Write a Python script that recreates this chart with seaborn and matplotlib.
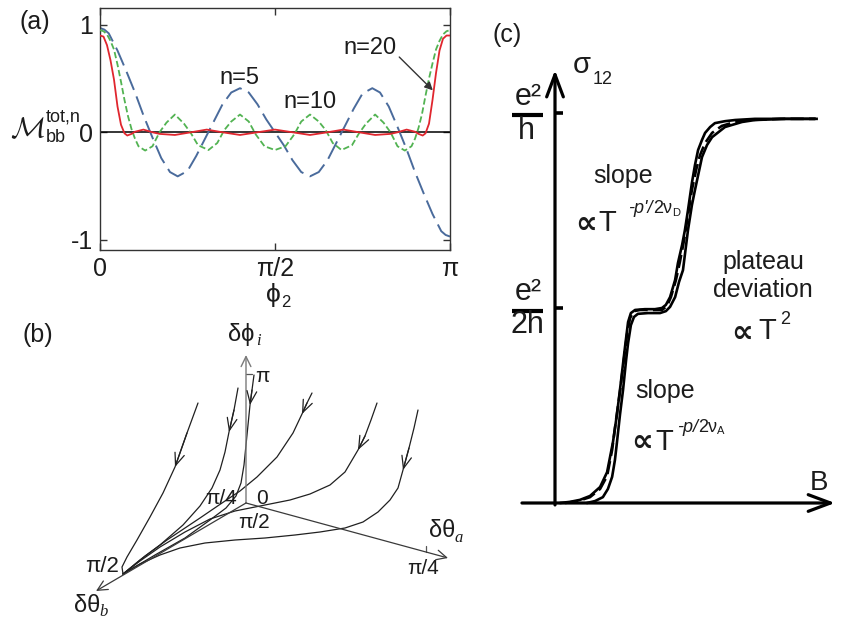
import matplotlib
matplotlib.use("Agg")
import matplotlib.pyplot as plt
from matplotlib.lines import Line2D
import numpy as np
import seaborn as sns

# ---------------- (a) M_bb^{tot,n} versus phi_2 (phi_2 in units of pi) ----------------
phi_n5 = [0, .0125, .025, .05, .075, .1, .125, .15, .175, .2, .222, .25, .275, .3, .325,
          .35, .375, .4, .425, .45, .475, .5, .525, .55, .575, .6, .625, .65, .675, .7,
          .725, .75, .778, .8, .825, .85, .875, .9, .925, .95, .975, .9875, 1]
m_n5 = [0.97, 0.955, 0.92, 0.76, 0.57, 0.37, 0.15, -0.05, -0.24, -0.37, -0.41, -0.36,
        -0.22, -0.06, 0.10, 0.26, 0.37, 0.41, 0.37, 0.26, 0.12, 0.0, -0.12, -0.26, -0.37,
        -0.41, -0.37, -0.26, -0.10, 0.06, 0.22, 0.36, 0.41, 0.37, 0.24, 0.05, -0.15, -0.37,
        -0.57, -0.76, -0.92, -0.955, -0.97]

phi_n10 = [0, .01, .02, .03, .04, .05, .06, .07, .08, .09, .1, .11, .129, .15, .17, .19,
           .214, .24, .26, .28, .31, .335, .355, .375, .4, .425, .445, .47, .5, .53, .555,
           .575, .6, .625, .645, .665, .69, .72, .74, .76, .786, .81, .83, .85, .871, .89,
           .9, .91, .92, .93, .94, .95, .96, .97, .98, .99, 1]
m_n10 = [0.95, 0.94, 0.91, 0.85, 0.77, 0.63, 0.47, 0.30, 0.15, 0.03, -0.06, -0.13, -0.17,
         -0.13, 0.0, 0.09, 0.165, 0.08, -0.01, -0.12, -0.165, -0.10, 0.02, 0.10, 0.165,
         0.10, -0.02, -0.13, -0.165, -0.13, -0.02, 0.10, 0.165, 0.10, 0.02, -0.10, -0.165,
         -0.12, -0.01, 0.08, 0.165, 0.09, 0.0, -0.13, -0.17, -0.13, -0.06, 0.04, 0.17,
         0.34, 0.50, 0.64, 0.77, 0.85, 0.91, 0.94, 0.95]

phi_n20 = [0, .01, .02, .03, .04, .05, .06, .07, .078, .09, .1, .124, .15, .17, .214, .26,
           .305, .35, .4, .45, .5, .55, .6, .65, .695, .74, .786, .83, .85, .876, .9, .91,
           .922, .93, .94, .95, .96, .97, .98, .99, 1]
m_n20 = [0.90, 0.89, 0.81, 0.67, 0.49, 0.24, 0.07, -0.01, -0.03, -0.015, 0.005, 0.025,
         0.0, -0.015, -0.025, 0.0, 0.025, 0.0, -0.025, 0.0, 0.025, 0.0, -0.025, 0.0, 0.025,
         0.0, -0.025, -0.015, 0.0, 0.025, 0.005, -0.015, -0.03, -0.01, 0.08, 0.30, 0.55,
         0.76, 0.87, 0.90, 0.90]

a_xticks = [0, 0.5, 1]
a_xticklabels = ["0", "π/2", "π"]
a_yticks = [-1, 0, 1]
a_yticklabels = ["-1", "0", "1"]

# ---------------- (b) RG flow lines in the (δθ_b, δθ_a, δφ_i) projection ----------------
axis_origin = (246, 503)
tip_phi_i = (246, 355)
tip_theta_a = (448, 558)
tip_theta_b = (96, 591)

flow1_x = [198, 187, 175, 163, 150, 137, 127, 122, 123]
flow1_y = [403, 433, 467, 493, 517, 540, 557, 567, 574]
flow2_x = [238, 234, 229, 225, 220, 212, 200, 183, 160, 140, 123]
flow2_y = [388, 410, 432, 452, 470, 488, 506, 525, 545, 560, 574]
flow3_x = [254, 252, 250, 248, 246, 244, 241, 236, 226, 210, 185, 155, 123]
flow3_y = [375, 390, 405, 425, 445, 465, 483, 496, 508, 520, 538, 555, 574]
flow4_x = [312, 307, 302, 293, 277, 257, 240, 222, 200, 167, 145, 123]
flow4_y = [393, 403, 414, 433, 457, 477, 491, 503, 518, 540, 556, 574]
flow5_x = [377, 371, 365, 358, 345, 330, 310, 290, 270, 255, 235, 210, 185, 160, 140, 123]
flow5_y = [403, 420, 436, 450, 472, 485, 494, 500, 504, 507, 511, 519, 532, 547, 561, 574]
flow6_x = [418, 414, 409, 403, 398, 390, 378, 363, 345, 320, 295, 265, 235, 205, 180,
           160, 140, 123]
flow6_y = [410, 428, 448, 470, 488, 500, 512, 522, 528, 532, 535, 538, 540, 543, 548,
           555, 564, 574]
flows = [(flow1_x, flow1_y, 2), (flow2_x, flow2_y, 2), (flow3_x, flow3_y, 2),
         (flow4_x, flow4_y, 2), (flow5_x, flow5_y, 3), (flow6_x, flow6_y, 3)]

# ---------------- (c) sigma_12 (units of e^2/h) versus B ----------------
B_solid1 = [0.18, 0.54, 0.89, 1.25, 1.61, 1.86, 2.07, 2.21, 2.32, 2.5, 2.61, 2.71, 2.86,
            3.21, 3.57, 3.82, 3.96, 4.11, 4.29, 4.39, 4.54, 4.64, 4.75, 4.89, 5.0, 5.11,
            5.25, 5.36, 5.54, 5.71, 6.07, 6.43, 7.14, 8.21, 9.29]
sig_solid1 = [0.0, 0.003, 0.008, 0.018, 0.041, 0.079, 0.156, 0.226, 0.29, 0.4, 0.464,
              0.487, 0.495, 0.497, 0.497, 0.5, 0.508, 0.528, 0.572, 0.615, 0.662, 0.7,
              0.751, 0.821, 0.867, 0.905, 0.931, 0.949, 0.964, 0.974, 0.979, 0.982,
              0.985, 0.985, 0.985]
B_solid2 = [1.14, 1.43, 1.71, 1.89, 2.04, 2.14, 2.21, 2.32, 2.43, 2.54, 2.61, 2.71, 2.82,
            2.96, 3.32, 3.75, 3.96, 4.11, 4.29, 4.43, 4.57, 4.75, 4.89, 5.0, 5.25, 5.43,
            5.61, 6.07, 6.68, 7.14, 8.21, 9.29]
sig_solid2 = [0.0, 0.005, 0.015, 0.036, 0.067, 0.11, 0.154, 0.226, 0.29, 0.367, 0.41,
              0.456, 0.477, 0.485, 0.487, 0.487, 0.492, 0.503, 0.528, 0.567, 0.597, 0.7,
              0.764, 0.803, 0.887, 0.918, 0.938, 0.964, 0.977, 0.982, 0.985, 0.985]
B_dashed = [0.36, 0.82, 1.25, 1.61, 1.86, 2.04, 2.18, 2.32, 2.46, 2.57, 2.68, 2.82, 3.04,
            3.39, 3.82, 4.0, 4.14, 4.32, 4.46, 4.61, 4.75, 4.89, 5.04, 5.18, 5.36, 5.61,
            5.96, 6.43, 6.96, 8.04, 9.39]
sig_dashed = [0.0, 0.005, 0.015, 0.036, 0.069, 0.136, 0.213, 0.285, 0.367, 0.431, 0.474,
              0.492, 0.495, 0.495, 0.495, 0.505, 0.528, 0.572, 0.618, 0.674, 0.738, 0.803,
              0.854, 0.892, 0.923, 0.949, 0.967, 0.977, 0.982, 0.985, 0.985]
sigma_ticks = [1.0, 0.5]

# ---------------- style ----------------
sns.set_style("white")
plt.rcParams["font.family"] = ["Liberation Sans", "DejaVu Sans"]
plt.rcParams["mathtext.fontset"] = "custom"
plt.rcParams["mathtext.rm"] = "Liberation Sans"
plt.rcParams["mathtext.it"] = "Liberation Sans:italic"
plt.rcParams["mathtext.sf"] = "Liberation Sans"

INK = "#1c1c1c"
SANS = ["Liberation Sans", "DejaVu Sans"]
W, H = 844, 624
fig = plt.figure(figsize=(W / 100, H / 100), dpi=100)
fig.patch.set_facecolor("white")


def label(x, y, s, size, **kw):
    kw.setdefault("ha", "center")
    kw.setdefault("va", "center")
    kw.setdefault("color", INK)
    return fig.text(x / W, 1 - y / H, s, fontsize=size, **kw)


def sub_serif(x, y, s, size=12):
    return label(x, y, s, size, family="Liberation Serif", style="italic")


def bar(x0, x1, y, lw):
    fig.add_artist(Line2D([x0 / W, x1 / W], [1 - y / H, 1 - y / H],
                          transform=fig.transFigure, color="black", lw=lw,
                          solid_capstyle="butt"))


def propto(x, y, size=22):
    return label(x, y, "∝", size, family="DejaVu Sans", weight="bold")


# ================= panel (a) =================
ax_a = fig.add_axes([100 / W, 1 - 250 / H, 350 / W, 242 / H])
ax_a.axhline(0, color="black", lw=1.1, zorder=1)
sns.lineplot(x=phi_n5, y=m_n5, ax=ax_a, color="#4a6b9c", lw=1.4,
             sort=False, estimator=None, zorder=2)
ax_a.lines[-1].set_dashes((10, 3.6))
sns.lineplot(x=phi_n10, y=m_n10, ax=ax_a, color="#52b352", lw=1.3,
             sort=False, estimator=None, zorder=3)
ax_a.lines[-1].set_dashes((3.5, 1.6))
sns.lineplot(x=phi_n20, y=m_n20, ax=ax_a, color="#e0262e", lw=1.3,
             sort=False, estimator=None, zorder=4)
ax_a.set_xlim(0, 1)
ax_a.set_ylim(-1.095, 1.156)
ax_a.set_xticks(a_xticks, a_xticklabels)
ax_a.set_yticks(a_yticks, a_yticklabels)
ax_a.tick_params(direction="in", length=5, width=1, colors="#333333", labelcolor=INK,
                 labelsize=18, top=True, right=True, bottom=True, left=True, pad=5)
for sp in ax_a.spines.values():
    sp.set_color("#333333")
    sp.set_linewidth(1.0)
ax_a.set_xlabel("")
ax_a.set_ylabel("")
ax_a.annotate("", xy=(0.951, 0.39), xytext=(0.855, 0.70),
              arrowprops=dict(arrowstyle="-|>", color="#333333", lw=1.0,
                              mutation_scale=12, shrinkA=0, shrinkB=0))

label(35, 22, "(a)", 18)
label(239, 78, "n=5", 17)
label(310, 102, "n=10", 17)
label(370, 48, "n=20", 17)
label(273, 295, "ϕ", 19, family=SANS)
label(286, 302, "2", 12)
label(27, 129, r"$\mathcal{M}$", 21, math_fontfamily="cm")
label(56, 138, "bb", 13)
label(63, 117, "tot,n", 13)

# ================= panel (b) =================
ax_b = fig.add_axes([0, 0, 480 / W, 314 / H])
ax_b.set_xlim(0, 480)
ax_b.set_ylim(624, 310)
ax_b.axis("off")

head = "->,head_length=0.45,head_width=0.22"
ax_b.annotate("", xy=tip_phi_i, xytext=axis_origin,
              arrowprops=dict(arrowstyle=head, color="#7a7a7a", lw=1.0,
                              mutation_scale=16, shrinkA=0, shrinkB=0))
for tip in (tip_theta_a, tip_theta_b):
    ax_b.annotate("", xy=tip, xytext=axis_origin,
                  arrowprops=dict(arrowstyle=head, color="#3a3a3a", lw=0.9,
                                  mutation_scale=16, shrinkA=0, shrinkB=0))

for xs, ys, k in flows:
    sns.lineplot(x=xs, y=ys, ax=ax_b, color="#202020", lw=0.9,
                 sort=False, estimator=None)
    ax_b.annotate("", xy=(xs[k], ys[k]), xytext=(xs[k - 1], ys[k - 1]),
                  arrowprops=dict(arrowstyle="->,head_length=0.55,head_width=0.22",
                                  color="#202020", lw=0.9, mutation_scale=16,
                                  shrinkA=0, shrinkB=0))

# tick marks on the schematic axes
ax_b.plot([axis_origin[0], axis_origin[0] + 6], [374, 374], color="#555555", lw=0.9)
ta = np.array(tip_theta_a, float) - np.array(axis_origin, float)
pa = np.array(axis_origin, float) + ta * 0.89
ax_b.plot([pa[0], pa[0]], [pa[1], pa[1] - 6], color="#555555", lw=0.9)

label(38, 335, "(b)", 18)
label(241, 335, "δϕ", 17, family=SANS)
sub_serif(258, 341, "i")
label(262, 377, "π", 15)
label(221, 499, "π/4", 15)
label(262, 498, "0", 15)
label(254, 523, "π/2", 15)
label(442, 531, "δθ", 17)
sub_serif(459, 538, "a")
label(423, 569, "π/4", 15)
label(102, 566, "π/2", 16)
label(87, 606, "δθ", 17)
sub_serif(104, 612, "b")

# ================= panel (c) =================
ax_c = fig.add_axes([480 / W, 0, 364 / W, 1])
ax_c.set_xlim(-75 / 28, 289 / 28)
ax_c.set_ylim(-121 / 390, 503 / 390)
ax_c.axis("off")

big_head = "->,head_length=0.8,head_width=0.3"
ax_c.annotate("", xy=(0, 1.11), xytext=(0, -0.005),
              arrowprops=dict(arrowstyle=big_head, color="black", lw=2.3,
                              mutation_scale=20, shrinkA=0, shrinkB=0))
ax_c.annotate("", xy=(10.0, 0), xytext=(-1.18, 0),
              arrowprops=dict(arrowstyle=big_head, color="black", lw=2.3,
                              mutation_scale=20, shrinkA=0, shrinkB=0))
ax_c.hlines(sigma_ticks, 0, 0.3, color="black", lw=2.6)

sns.lineplot(x=B_solid1, y=sig_solid1, ax=ax_c, color="black", lw=1.9,
             sort=False, estimator=None)
sns.lineplot(x=B_solid2, y=sig_solid2, ax=ax_c, color="black", lw=1.9,
             sort=False, estimator=None)
sns.lineplot(x=B_dashed, y=sig_dashed, ax=ax_c, color="black", lw=1.9,
             sort=False, estimator=None)
ax_c.lines[-1].set_dashes((5, 2))

label(507, 35, "(c)", 18)
label(582, 65, "σ", 21)
label(603, 80, "12", 13)
label(528, 97, "e²", 22)
bar(512, 543, 115, 3.0)
label(526, 131, "h", 22)
label(528, 292, "e²", 22)
bar(512, 543, 311, 3.0)
label(527, 325, "2h", 22)
label(819, 483, "B", 20)

label(623, 176, "slope", 18)
propto(586, 224)
label(607, 223, "T", 21)
label(628, 209, "-p'/", 13, ha="left", style="italic")
label(653, 209, "2ν", 13, ha="left")
label(672, 213, "D", 8, ha="left")

label(763, 262, "plateau", 18)
label(763, 290, "deviation", 18)
propto(742, 333)
label(767, 331, "T", 21)
label(785, 320, "2", 13)

label(665, 391, "slope", 18)
propto(642, 442)
label(664, 442, "T", 21)
label(677, 427, "-p/", 13, ha="left", style="italic")
label(698, 427, "2ν", 13, ha="left")
label(717, 431, "A", 8, ha="left")

fig.savefig("out.png", dpi=100, facecolor="white")
